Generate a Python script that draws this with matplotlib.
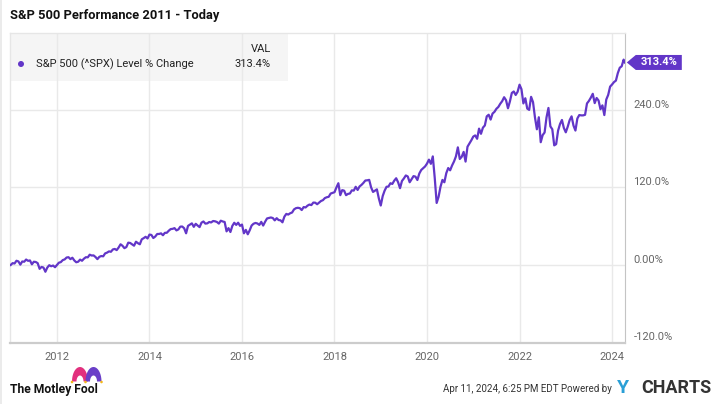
import numpy as np
import matplotlib
matplotlib.use("Agg")
import matplotlib.pyplot as plt
from matplotlib import font_manager
from matplotlib.patches import Polygon, Rectangle, Ellipse
from matplotlib.transforms import ScaledTranslation

# S&P 500 level % change since end of 2010, two readings per month (mid, end)
pct_2011 = [2.8, 2.3, 6.5, 5.5, 0.5, 5.4, 5.0, 8.4, 6.4, 7.0, 1.0, 5.0,
            4.6, 2.8, -6.0, -3.1, -4.0, -10.5, -4.0, -0.4, -2.0, -0.9, -3.5, 0.0]
pct_2012 = [3.5, 4.4, 7.5, 8.6, 11.5, 12.0, 9.0, 11.2, 7.0, 4.2, 5.0, 8.3,
            6.5, 9.7, 12.0, 11.8, 15.9, 14.6, 14.8, 12.3, 9.0, 12.6, 13.8, 13.4]
pct_2013 = [17.9, 19.1, 21.0, 20.4, 24.0, 24.8, 23.0, 27.0, 32.0, 29.7, 26.0, 27.7,
            34.5, 34.0, 32.0, 29.8, 36.0, 33.7, 32.0, 39.7, 41.5, 43.6, 41.0, 47.0]
pct_2014 = [46.5, 41.7, 44.0, 47.9, 48.0, 48.9, 46.0, 49.8, 49.8, 53.0, 55.5, 55.9,
            57.0, 53.5, 55.0, 59.3, 59.5, 56.8, 49.0, 60.5, 62.5, 64.4, 59.0, 63.7]
pct_2015 = [61.0, 58.6, 65.5, 67.3, 64.0, 64.4, 66.5, 65.8, 68.0, 67.6, 66.5, 64.0,
            68.5, 67.3, 66.5, 52.0, 57.0, 51.0, 60.5, 65.3, 62.0, 65.4, 60.5, 62.5]
pct_2016 = [49.0, 54.3, 47.5, 53.6, 61.0, 63.8, 65.0, 64.2, 62.0, 66.7, 61.0, 66.9,
            72.0, 72.8, 73.5, 72.6, 69.0, 72.4, 69.5, 69.1, 66.0, 74.8, 79.0, 78.0]
pct_2017 = [80.0, 81.2, 86.0, 87.9, 88.5, 87.9, 85.0, 89.6, 89.0, 91.8, 93.5, 92.7,
            96.5, 96.4, 94.0, 96.5, 99.0, 100.3, 103.5, 104.8, 105.5, 110.5, 111.5, 112.6]
pct_2018 = [120.0, 126.5, 108.0, 115.8, 115.0, 108.0, 110.0, 110.6, 115.5, 115.1, 121.0, 116.1,
            121.5, 123.9, 127.0, 130.7, 131.0, 131.7, 120.0, 113.0, 115.0, 117.0, 103.0, 92.0]
pct_2019 = [106.5, 115.0, 121.0, 121.4, 126.5, 125.4, 130.5, 134.2, 128.0, 118.8, 130.0, 133.9,
            138.5, 137.0, 128.0, 132.7, 137.5, 136.7, 131.5, 141.5, 147.0, 149.8, 152.5, 156.9]
pct_2020 = [163.0, 156.5, 168.0, 134.9, 96.0, 105.5, 121.0, 131.6, 128.0, 142.1, 150.0, 146.5,
            154.0, 160.1, 168.0, 182.0, 164.0, 167.4, 175.0, 160.0, 183.0, 188.0, 193.0, 198.7]
pct_2021 = [200.5, 195.3, 211.0, 203.0, 212.5, 215.9, 230.0, 232.5, 225.0, 234.3, 237.0, 241.7,
            244.5, 249.5, 253.5, 259.6, 255.0, 242.5, 253.0, 266.2, 268.5, 263.1, 268.0, 279.0]
pct_2022 = [272.0, 250.0, 258.0, 242.0, 240.0, 260.2, 252.0, 228.5, 210.0, 228.6, 190.0, 201.0,
            205.0, 228.4, 243.0, 214.5, 210.0, 185.1, 187.0, 207.9, 218.0, 224.4, 212.0, 205.3]
pct_2023 = [214.0, 224.1, 230.0, 215.7, 208.0, 226.7, 232.0, 231.5, 231.5, 232.4, 250.0, 253.9,
            259.0, 264.9, 250.5, 258.4, 254.5, 241.0, 247.0, 232.0, 256.0, 263.2, 276.0, 279.3]
pct_2024 = [283.0, 285.3, 297.0, 305.2, 307.5, 317.8]
last_date = 2024 + 101 / 366
last_pct = 313.4

year_lists = [pct_2011, pct_2012, pct_2013, pct_2014, pct_2015, pct_2016, pct_2017,
              pct_2018, pct_2019, pct_2020, pct_2021, pct_2022, pct_2023, pct_2024]

x_ticks = list(range(2012, 2025, 2))
y_ticks = [-120, 0, 120, 240]
y_labels = ["-120.0%", "0.00%", "120.0%", "240.0%"]

dates = [2011.0]
vals = [0.0]
for i, lst in enumerate(year_lists):
    for j, v in enumerate(lst):
        dates.append(2011 + i + (j + 1) / 24)
        vals.append(v)
dates.append(last_date)
vals.append(last_pct)

names = {f.name for f in font_manager.fontManager.ttflist}
base_font = "Roboto" if "Roboto" in names else "DejaVu Sans"
plt.rcParams["font.family"] = [base_font, "DejaVu Sans"]

purple = "#6236c8"
gray_txt = "#666666"

W, H = 720, 404
fig = plt.figure(figsize=(W / 100, H / 100), dpi=100)
ax = fig.add_axes([10 / W, 1 - 342.5 / H, 615 / W, 309.5 / H])

ax.plot(dates, vals, color=purple, lw=1.6, zorder=3, solid_joinstyle="round")

ax.set_xlim(2010.985, 2024.28)
ax.set_ylim(-120, 359)
ax.set_xticks(x_ticks)
ax.set_xticklabels([str(t) for t in x_ticks])
ax.set_yticks(y_ticks)
ax.set_yticklabels(y_labels)
ax.yaxis.tick_right()
ax.tick_params(axis="both", length=0, labelsize=8, labelcolor=gray_txt)
ax.tick_params(axis="x", pad=7)
ax.tick_params(axis="y", pad=6)
off = ScaledTranslation(0, 6 / 100, fig.dpi_scale_trans)
for lab in ax.get_yticklabels():
    lab.set_transform(lab.get_transform() + off)
ax.grid(True, color="#e9e9e9", lw=1)
ax.set_axisbelow(True)
for s in ["left", "top"]:
    ax.spines[s].set_color("#e6e6e6")
    ax.spines[s].set_linewidth(1)
ax.spines["right"].set_color("#c4c4c4")
ax.spines["bottom"].set_color("#cccccc")
ax.spines["bottom"].set_linewidth(1.6)

# legend panel
ax.add_patch(Rectangle((0, 1 - 48 / 309.5), 278 / 615, 48 / 309.5, transform=ax.transAxes,
                       facecolor="#f5f5f5", edgecolor="none", zorder=0))
fig.text(271 / W, 1 - 49 / H, "VAL", ha="right", va="center", fontsize=8, color="#222222")
fig.text(271 / W, 1 - 64 / H, "313.4%", ha="right", va="center", fontsize=8, color="#222222")
fig.text(36 / W, 1 - 64 / H, "S&P 500 (^SPX) Level % Change", ha="left", va="center",
         fontsize=8, color="#222222")
fig.patches.append(Ellipse((21 / W, 1 - 64 / H), 6 / W, 6 / H, transform=fig.transFigure,
                           facecolor=purple, edgecolor="none"))

# value tag at the last point
tag_tr = fig.dpi_scale_trans + ScaledTranslation(last_date, last_pct, ax.transData)
tag = Polygon([(0.02, 0), (0.11, 0.075), (0.57, 0.075), (0.57, -0.075), (0.11, -0.075)],
              closed=True, transform=tag_tr, facecolor=purple, edgecolor="none",
              clip_on=False, zorder=5)
ax.add_patch(tag)
ax.text(0.34, 0.005, f"{last_pct:.1f}%", transform=tag_tr, ha="center", va="center",
        color="white", fontsize=8, fontweight="bold", clip_on=False, zorder=6)

# title
fig.text(10 / W, 1 - 16 / H, "S&P 500 Performance 2011 - Today", ha="left", va="center",
         fontsize=9.3, fontweight="bold", color="#111111")

# footer
fig.text(10 / W, 1 - 389 / H, "The Motley Fool", ha="left", va="center", fontsize=8.7,
         fontweight="bold", color="#111111")
ov = fig.add_axes([0, 0, 1, 1], zorder=-1)
ov.set_xlim(0, W)
ov.set_ylim(H, 0)
ov.axis("off")
ov.add_patch(Rectangle((0, 0), 2, H, facecolor="#ebebeb", edgecolor="none"))
t = np.linspace(0, np.pi, 40)
hat_base = 381.5


def hat_lobe(cx, color):
    outer = [(cx - 8 * np.cos(a), hat_base - 14.5 * np.sin(a)) for a in t]
    inner = [(cx + 3.5 * np.cos(a), hat_base - 6 * np.sin(a)) for a in t]
    ov.add_patch(Polygon(outer + inner, closed=True, facecolor=color, edgecolor="none"))


hat_lobe(80, "#e2307e")
hat_lobe(93.5, "#6a3fc8")
for cx in (72, 85.5, 101.5):
    ov.add_patch(Ellipse((cx, hat_base + 0.5), 2.6, 2.6, facecolor="#f2b61b", edgecolor="none"))

fig.text(612 / W, 1 - 389 / H, "Apr 11, 2024, 6:25 PM EDT Powered by", ha="right", va="center",
         fontsize=7.0, color="#333333")
fig.text(617 / W, 1 - 388 / H, "Y", ha="left", va="center", fontsize=14, fontweight="bold",
         color="#2a9fd6")
fig.text(711 / W, 1 - 388 / H, "CHARTS", ha="right", va="center", fontsize=13,
         fontweight="bold", color="#333333")

fig.savefig("out.png", dpi=100)
